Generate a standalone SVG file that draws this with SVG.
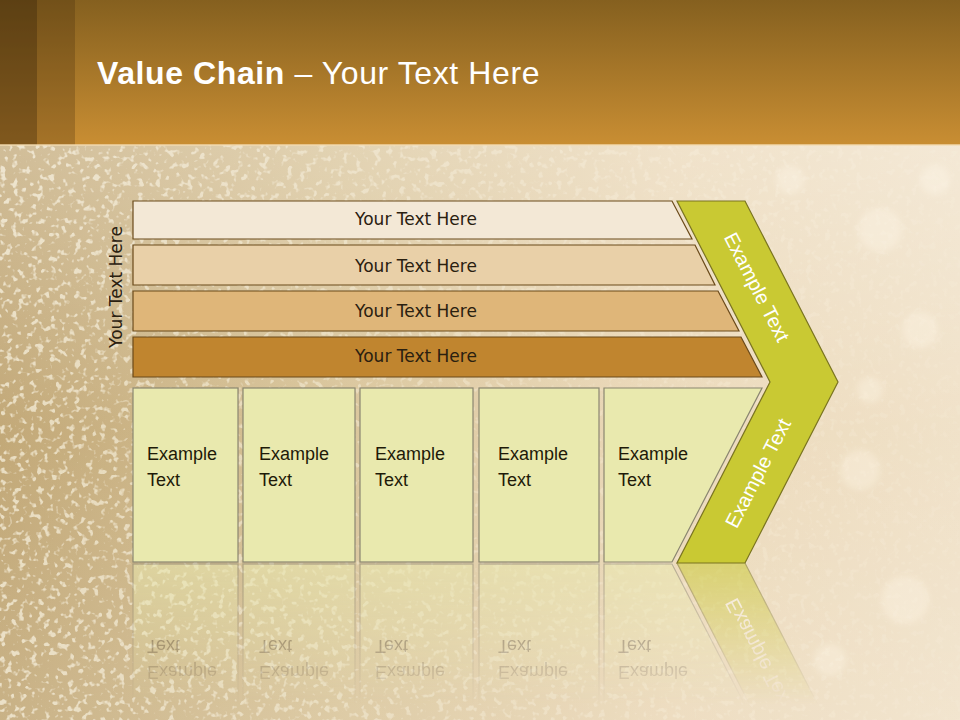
<svg xmlns="http://www.w3.org/2000/svg" xmlns:xlink="http://www.w3.org/1999/xlink" width="960" height="720" viewBox="0 0 960 720">
<defs>
<style>
.bar{stroke:#6b4a1a;stroke-width:1.2}
.box{fill:#e9e9ae;stroke:#8a8670;stroke-width:1.2}
.bt{font-family:"DejaVu Sans",Verdana,sans-serif;font-size:17px;fill:#2a2010;text-anchor:middle}
.et{font-family:"Liberation Sans",Arial,sans-serif;font-size:18px;fill:#1e1a08}
.ct{font-family:"Liberation Sans",Arial,sans-serif;font-size:20px;fill:#ffffff;text-anchor:middle}
.bk{fill:#fff6e4}
</style>
<linearGradient id="hdr" x1="0" y1="0" x2="0" y2="1">
<stop offset="0" stop-color="#85601f"/><stop offset="1" stop-color="#c98e33"/>
</linearGradient>
<linearGradient id="bgH" x1="0" y1="0" x2="1" y2="0">
<stop offset="0" stop-color="#bda16c"/><stop offset="0.35" stop-color="#d6c092"/><stop offset="0.7" stop-color="#ead6b4"/><stop offset="1" stop-color="#efdfc4"/>
</linearGradient>
<linearGradient id="bgV" x1="0" y1="0" x2="0" y2="1">
<stop offset="0" stop-color="#ffffff" stop-opacity="0.3"/><stop offset="0.5" stop-color="#ffffff" stop-opacity="0.08"/><stop offset="1" stop-color="#ffffff" stop-opacity="0.18"/>
</linearGradient>
<filter id="spark" x="0" y="0" width="1" height="1">
<feTurbulence type="fractalNoise" baseFrequency="0.16" numOctaves="2" seed="11" result="n"/>
<feColorMatrix in="n" type="matrix" values="0 0 0 0 1  0 0 0 0 0.96  0 0 0 0 0.82  0 0 0 7 -3.9" result="s"/>
<feGaussianBlur in="s" stdDeviation="0.6"/>
</filter>
<filter id="soft"><feGaussianBlur stdDeviation="3"/></filter>
<linearGradient id="sparkFade" x1="0" y1="0" x2="1" y2="0">
<stop offset="0" stop-color="#fff" stop-opacity="0.85"/><stop offset="0.5" stop-color="#fff" stop-opacity="0.4"/><stop offset="1" stop-color="#fff" stop-opacity="0.12"/>
</linearGradient>
<mask id="sparkMask"><rect x="0" y="145" width="960" height="575" fill="url(#sparkFade)"/></mask>
<linearGradient id="refl" gradientUnits="userSpaceOnUse" x1="0" y1="563" x2="0" y2="705">
<stop offset="0" stop-color="#fff" stop-opacity="0.55"/><stop offset="1" stop-color="#fff" stop-opacity="0"/>
</linearGradient>
<mask id="reflMask"><rect x="0" y="563" width="960" height="157" fill="url(#refl)"/></mask>
</defs>

<g id="background">
<rect x="0" y="0" width="960" height="720" fill="url(#bgH)"/>
<rect x="0" y="145" width="960" height="575" fill="#ffffff" filter="url(#spark)" mask="url(#sparkMask)" opacity="0.75"/>
<g opacity="0.35" filter="url(#soft)">
<circle class="bk" cx="880" cy="230" r="22"/><circle class="bk" cx="920" cy="330" r="18"/>
<circle class="bk" cx="860" cy="470" r="20"/><circle class="bk" cx="905" cy="600" r="24"/>
<circle class="bk" cx="830" cy="660" r="16"/><circle class="bk" cx="790" cy="180" r="14"/>
<circle class="bk" cx="935" cy="180" r="15"/><circle class="bk" cx="870" cy="390" r="13"/>
</g>
<rect x="0" y="145" width="960" height="575" fill="url(#bgV)"/>
</g>

<g id="header">
<rect x="0" y="0" width="960" height="145" fill="url(#hdr)"/>
<rect x="0" y="0" width="75" height="145" fill="#3a2508" opacity="0.25"/>
<rect x="0" y="0" width="37" height="145" fill="#2a1a05" opacity="0.3"/>
<rect x="0" y="144" width="960" height="2" fill="#f3dcb0" opacity="0.7"/>
<text x="97" y="84" font-family="'Liberation Sans',Arial,sans-serif" font-size="32" letter-spacing="0.6" fill="#ffffff"><tspan font-weight="bold">Value Chain</tspan> – Your Text Here</text>
</g>

<g id="side-label">
<text class="bt" x="0" y="0" transform="translate(122,287) rotate(-90)" fill="#000">Your Text Here</text>
</g>

<g id="bar1">
<polygon class="bar" points="133,201 672,201 692,239 133,239" fill="#f3e8d6"/>
<text class="bt" x="416" y="225">Your Text Here</text>
</g>
<g id="bar2">
<polygon class="bar" points="133,245 695,245 715,285 133,285" fill="#e9d0a8"/>
<text class="bt" x="416" y="272">Your Text Here</text>
</g>
<g id="bar3">
<polygon class="bar" points="133,291 718,291 739,331 133,331" fill="#dfb679"/>
<text class="bt" x="416" y="317">Your Text Here</text>
</g>
<g id="bar4">
<polygon class="bar" points="133,337 741,337 762,377 133,377" fill="#c0852f"/>
<text class="bt" x="416" y="362">Your Text Here</text>
</g>

<g id="boxes">
<g id="box1"><rect class="box" x="133" y="388" width="105" height="174"/><text class="et" x="147" y="460">Example</text><text class="et" x="147" y="486">Text</text></g>
<g id="box2"><rect class="box" x="243" y="388" width="112" height="174"/><text class="et" x="259" y="460">Example</text><text class="et" x="259" y="486">Text</text></g>
<g id="box3"><rect class="box" x="360" y="388" width="113" height="174"/><text class="et" x="375" y="460">Example</text><text class="et" x="375" y="486">Text</text></g>
<g id="box4"><rect class="box" x="479" y="388" width="120" height="174"/><text class="et" x="498" y="460">Example</text><text class="et" x="498" y="486">Text</text></g>
<g id="box5"><polygon class="box" points="604,388 762,388 672,562 604,562"/><text class="et" x="618" y="460">Example</text><text class="et" x="618" y="486">Text</text></g>
<g id="chevron">
<polygon points="677,201 745,201 838,382 745,563 677,563 770,382" fill="#c9c933" stroke="#7a7420" stroke-width="1.2"/>
<text class="ct" x="0" y="0" transform="translate(757,287) rotate(62.8)" dy="7">Example Text</text>
<text class="ct" x="0" y="0" transform="translate(758,473) rotate(-62.8)" dy="7">Example Text</text>
</g>
</g>

<g id="reflection" mask="url(#reflMask)">
<use xlink:href="#boxes" transform="translate(0,1126) scale(1,-1)"/>
</g>
</svg>
